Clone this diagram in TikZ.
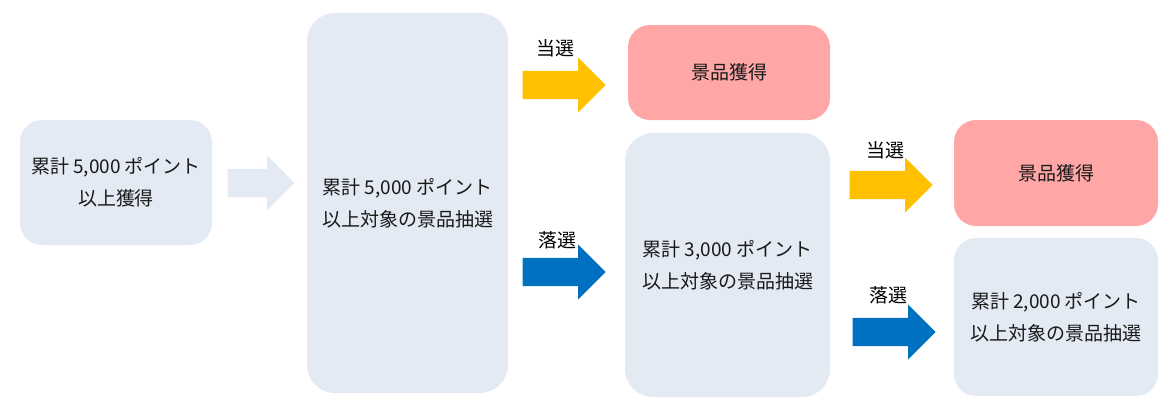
\documentclass[tikz,border=0pt]{standalone}
\usepackage{fontspec}
\setmainfont{Noto Sans CJK JP}
\usepackage{tikz}
\usetikzlibrary{shapes.arrows, positioning}

\definecolor{boxgrey}{HTML}{E3EAF3}
\definecolor{prizepink}{HTML}{FFA7A7}
\definecolor{winyellow}{HTML}{FFC000}
\definecolor{loseblue}{HTML}{0070C0}

\begin{document}
\begin{tikzpicture}[
    x=1pt, y=-1pt,
    box/.style={rectangle, rounded corners=22pt, fill=boxgrey, align=center,
        font=\fontsize{19}{32}\selectfont, text=black!90, inner sep=0pt},
    prize/.style={box, fill=prizepink},
    blk/.style={single arrow, single arrow tip angle=90, single arrow head extend=13.5pt,
        inner xsep=0pt, inner ysep=14pt, minimum height=83pt, anchor=tip},
    lbl/.style={font=\fontsize{19}{22}\selectfont, inner sep=0pt}
]
\useasboundingbox (0,0) rectangle (1176,413);
% Start: points collected, first draw
\node[box, minimum width=192pt, minimum height=125pt] (start) at (116,182.5)
    {累計 5,000 ポイント\\以上獲得};
\node[blk, fill=boxgrey, minimum height=67pt] (go) at (295,183) {};
\node[box, rounded corners=28pt, minimum width=201pt, minimum height=380pt] (draw5) at (407.5,203)
    {累計 5,000 ポイント\\以上対象の景品抽選};
% Second column: win or fall through to the 3,000 draw
\node[blk, fill=winyellow] (win1) at (606,85) {};
\node[lbl] (win1lbl) at (555,48) {当選};
\node[prize, minimum width=202pt, minimum height=95pt] (prize1) at (729,72.5) {景品獲得};
\node[blk, fill=loseblue] (lose1) at (606,272) {};
\node[lbl] (lose1lbl) at (557,240) {落選};
\node[box, rounded corners=28pt, minimum width=205pt, minimum height=264pt] (draw3) at (727.5,265)
    {累計 3,000 ポイント\\以上対象の景品抽選};
% Third column: win or fall through to the 2,000 draw
\node[blk, fill=winyellow] (win2) at (933,185) {};
\node[lbl] (win2lbl) at (885,150) {当選};
\node[prize, minimum width=204pt, minimum height=106pt] (prize2) at (1056,173) {景品獲得};
\node[blk, fill=loseblue] (lose2) at (936,332) {};
\node[lbl] (lose2lbl) at (888,295) {落選};
\node[box, minimum width=204pt, minimum height=158pt] (draw2) at (1056,317)
    {累計 2,000 ポイント\\以上対象の景品抽選};
\end{tikzpicture}
\end{document}
